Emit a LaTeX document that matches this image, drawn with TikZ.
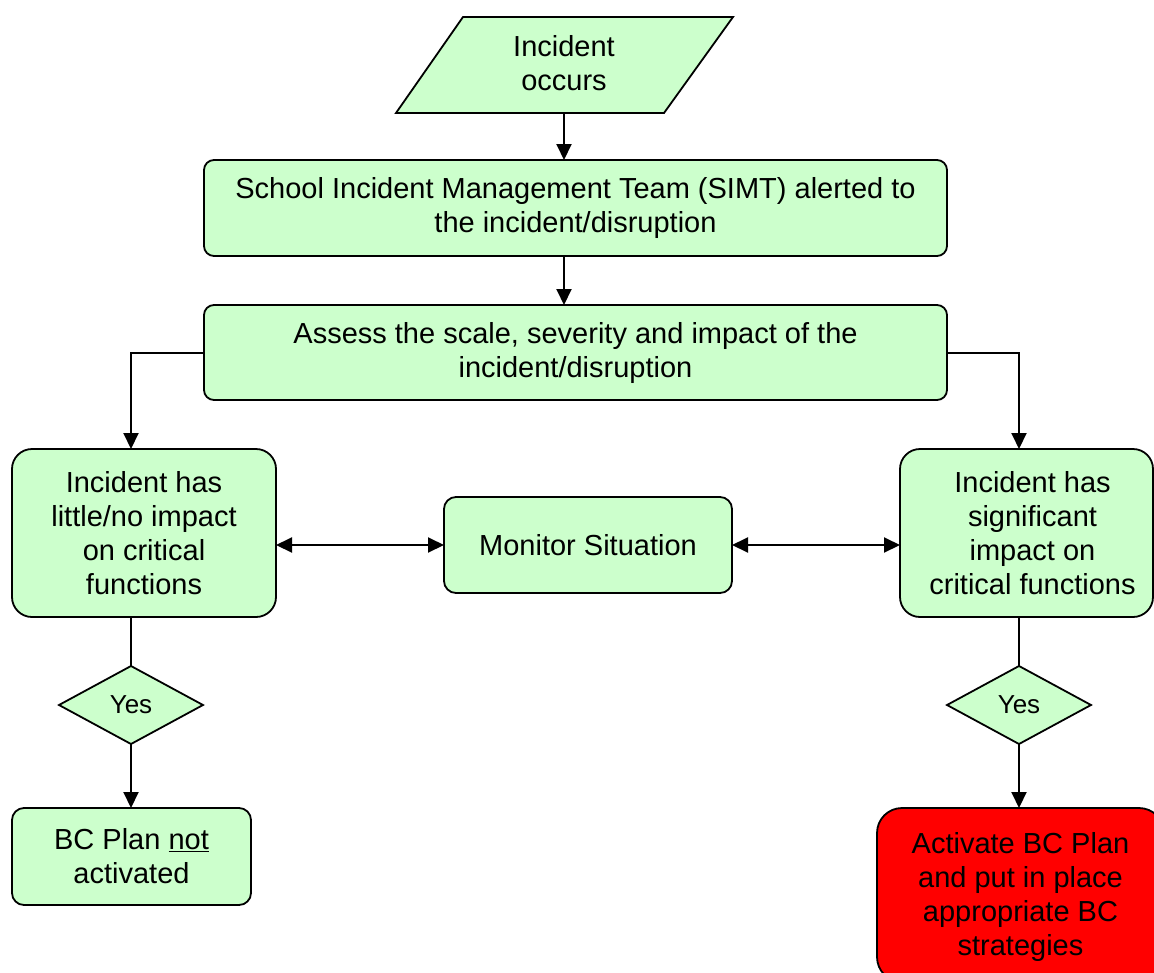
\documentclass[tikz,border=0pt]{standalone}
\usepackage{fontspec}
\setmainfont{Liberation Sans}
\usetikzlibrary{arrows.meta,shapes.geometric,calc}
\definecolor{boxgreen}{HTML}{CCFFCC}
\definecolor{boxred}{HTML}{FF0000}
\begin{document}
\begin{tikzpicture}[x=1pt,y=-1pt,
  every node/.style={inner sep=0pt, outer sep=0pt},
  txt/.style={font=\fontsize{29}{34}\selectfont, align=center},
  gbox/.style={draw=black, fill=boxgreen, line width=1.8pt, txt},
  rbox/.style={draw=black, fill=boxred, line width=1.8pt, txt},
  dia/.style={draw=black, fill=boxgreen, line width=1.8pt, diamond, font=\fontsize{26}{30}\selectfont},
  conn/.style={line width=2pt},
  arr/.style={conn, -{Triangle[length=16pt,width=15pt]}},
  darr/.style={conn, {Triangle[length=16pt,width=15pt]}-{Triangle[length=16pt,width=15pt]}}
]
\useasboundingbox[fill=white] (0,0) rectangle (1154,972);
% parallelogram
\draw[fill=boxgreen, line width=1.8pt, line join=miter] (463,17) -- (733,17) -- (664,113) -- (396,113) -- cycle;
\node[txt] (inc) at (564,63) {Incident\\occurs};
\coordinate (incb) at (564,113);

\node[gbox, rounded corners=10pt, minimum width=743pt, minimum height=96pt] (simt) at (575.5,208)
  {\rule{0pt}{6pt}School Incident Management Team (SIMT) alerted to\\the incident/disruption};
\node[gbox, rounded corners=10pt, minimum width=743pt, minimum height=95pt] (assess) at (575.5,352.5)
  {Assess the scale, severity and impact of the\\incident/disruption};
\node[gbox, rounded corners=20pt, minimum width=264pt, minimum height=168pt] (left) at (144,533)
  {Incident has\\little/no impact\\on critical\\functions};
\node[gbox, rounded corners=12pt, minimum width=288pt, minimum height=96pt] (mon) at (588,545)
  {Monitor Situation};
\node[gbox, rounded corners=20pt, minimum width=253pt, minimum height=168pt,
  label={[txt,xshift=6pt]center:{Incident has\\significant\\impact on\\critical functions}}] (right) at (1026.5,533) {};
\node[dia, minimum width=144pt, minimum height=78pt] (dl) at (131,705) {Yes};
\node[dia, minimum width=144pt, minimum height=78pt] (dr) at (1019,705) {Yes};
\node[gbox, rounded corners=12pt, minimum width=239pt, minimum height=97pt] (bcnot) at (131.5,856.5)
  {BC Plan \underline{not}\\activated};
\node[rbox, rounded corners=25pt, minimum width=287pt, minimum height=174pt,
  label={[txt,yshift=-2pt]center:{Activate BC Plan\\and put in place\\appropriate BC\\strategies}}] (red) at (1020.5,895) {};

% connectors
\draw[arr] (incb) -- (incb |- simt.north);
\draw[arr] (simt.south -| incb) -- (assess.north -| incb);
\draw[arr] (assess.west) -| (left.north -| dl.north);
\draw[arr] (assess.east) -| (right.north -| dr.north);
\draw[darr] (mon.west -| left.east) -- (mon.west);
\draw[darr] (mon.east) -- (mon.east -| right.west);
\draw[conn] (left.south -| dl.north) -- (dl.north);
\draw[conn] (right.south -| dr.north) -- (dr.north);
\draw[arr] (dl.south) -- (dl.south |- bcnot.north);
\draw[arr] (dr.south) -- (dr.south |- red.north);
\end{tikzpicture}
\end{document}
